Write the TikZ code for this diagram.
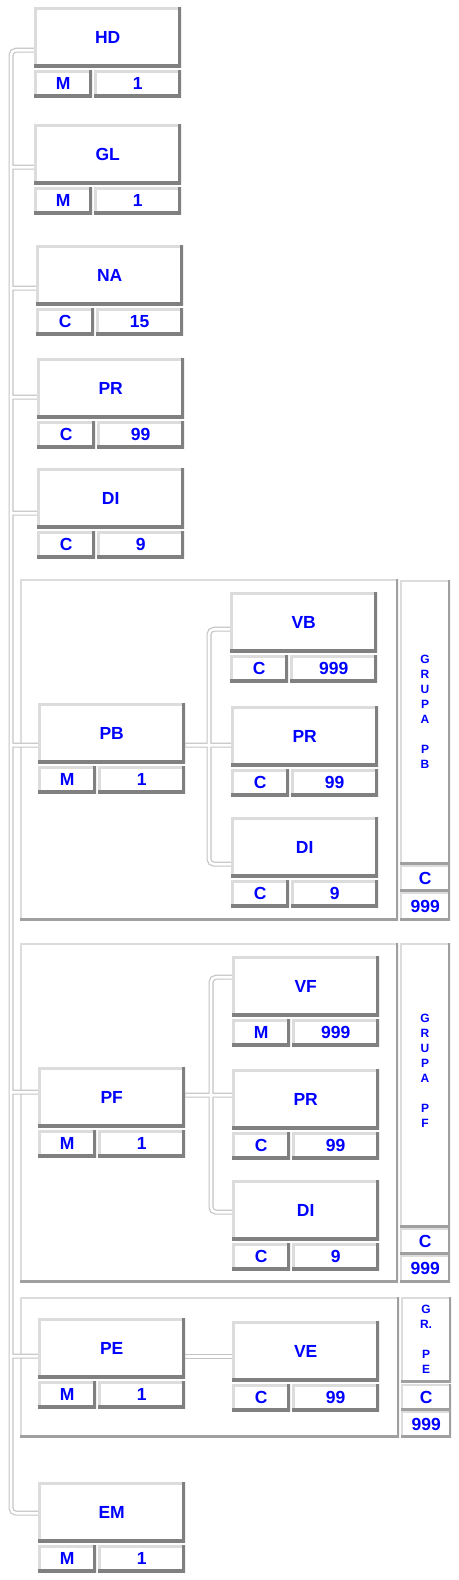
\documentclass[tikz,border=0pt]{standalone}
\usepackage{fontspec}
\setmainfont{Liberation Sans}
\usetikzlibrary{calc}
\definecolor{lightc}{HTML}{DCDCDC}
\definecolor{darkc}{HTML}{808080}
\definecolor{thindark}{HTML}{A0A0A0}
\definecolor{pipec}{HTML}{C4C4C4}
\definecolor{txtc}{HTML}{0000FF}
\newcommand\bigf{\fontsize{17.5}{20}\selectfont\bfseries}
\newcommand\colf{\fontsize{12}{15}\selectfont\bfseries}
\pgfdeclarelayer{frames}
\pgfdeclarelayer{pipes}
\pgfsetlayers{frames,pipes,main}
\tikzset{
  bev/.style={rectangle, inner sep=0pt, fill=white, anchor=north west, text=txtc, font=\bigf,
    path picture={
      \draw[line width=#1, lightc] (path picture bounding box.south west) -- (path picture bounding box.north west) -- (path picture bounding box.north east);
      \draw[line width=#1, darkc] (path picture bounding box.north east) -- (path picture bounding box.south east) -- (path picture bounding box.south west);}},
  bev/.default=6pt,
  grpbox/.style={rectangle, inner sep=0pt, fill=white, anchor=north west, text=txtc, font=\bigf,
    path picture={
      \draw[line width=4pt, lightc] (path picture bounding box.south west) -- (path picture bounding box.north west) -- (path picture bounding box.north east);
      \draw[line width=4pt, thindark] (path picture bounding box.north east) -- (path picture bounding box.south east) -- (path picture bounding box.south west);}},
  pipe/.style={draw=pipec, line width=1.2pt, double=white, double distance=2.6pt, rounded corners=5pt},
  coltext/.style={text=txtc, font=\colf, align=center, inner sep=0pt},
}
\newcommand\fld[6]{%
  \node[bev, minimum width=147pt, minimum height=60pt] (#1) at (#2,#3) {#4};
  \node[bev, minimum width=58pt, minimum height=27pt] (#1t) at (#2,#3+63) {#5};
  \node[bev, minimum width=87pt, minimum height=27pt] (#1n) at (#2+60,#3+63) {#6};
}
\begin{document}
\begin{tikzpicture}[x=1pt,y=-1pt]
\useasboundingbox (0,0) rectangle (458,1580);
% group frames
\begin{pgfonlayer}{frames}
\node[grpbox, minimum width=378pt, minimum height=341pt] (gpb) at (20,579) {};
\node[grpbox, minimum width=378pt, minimum height=339pt] (gpf) at (20,943) {};
\node[grpbox, minimum width=379pt, minimum height=140pt] (gpe) at (20,1297) {};
\end{pgfonlayer}
\node[grpbox, minimum width=50pt, minimum height=284pt] (gpbc) at (400,580) {};
\node[grpbox, minimum width=50pt, minimum height=26pt] (gpbt) at (400,865) {C};
\node[grpbox, minimum width=50pt, minimum height=28pt] (gpbn) at (400,892) {999};
\node[coltext] (gpbl) at (425,712) {G\\R\\U\\P\\A\\[15pt]P\\B};

\node[grpbox, minimum width=50pt, minimum height=284pt] (gpfc) at (400,943) {};
\node[grpbox, minimum width=50pt, minimum height=26pt] (gpft) at (400,1228) {C};
\node[grpbox, minimum width=50pt, minimum height=27pt] (gpfn) at (400,1255) {999};
\node[coltext] (gpfl) at (425,1071) {G\\R\\U\\P\\A\\[15pt]P\\F};

\node[grpbox, minimum width=50pt, minimum height=85pt] (gpec) at (401,1297) {};
\node[grpbox, minimum width=50pt, minimum height=26pt] (gpet) at (401,1384) {C};
\node[grpbox, minimum width=50pt, minimum height=26pt] (gpen) at (401,1411) {999};
\node[coltext] (gpel) at (426,1339) {G\\R.\\[15pt]P\\E};

% fields
\fld{hd}{34}{7}{HD}{M}{1}
\fld{gl}{34}{124}{GL}{M}{1}
\fld{na}{36}{245}{NA}{C}{15}
\fld{pr}{37}{358}{PR}{C}{99}
\fld{di}{37}{468}{DI}{C}{9}
\fld{pb}{38}{703}{PB}{M}{1}
\fld{vb}{230}{592}{VB}{C}{999}
\fld{prb}{231}{706}{PR}{C}{99}
\fld{dib}{231}{817}{DI}{C}{9}
\fld{pf}{38}{1067}{PF}{M}{1}
\fld{vf}{232}{956}{VF}{M}{999}
\fld{prf}{232}{1069}{PR}{C}{99}
\fld{dif}{232}{1180}{DI}{C}{9}
\fld{pe}{38}{1318}{PE}{M}{1}
\fld{ve}{232}{1321}{VE}{C}{99}
\fld{em}{38}{1482}{EM}{M}{1}

% connectors
\coordinate (spine) at (11,0);
\coordinate (ipb) at (209,0);
\coordinate (ipf) at (211,0);
\begin{pgfonlayer}{pipes}
\draw[pipe] ($(hd.west)+(0,13)$) -| ($(spine |- em.west)+(0,1)$) -- ($(em.west)+(0,1)$)
  ($(gl.west)+(0,13)$) coordinate (c2) -- (spine |- c2)
  ($(na.west)+(0,13)$) coordinate (c3) -- (spine |- c3)
  ($(pr.west)+(0,9)$) coordinate (c4) -- (spine |- c4)
  ($(di.west)+(0,15)$) coordinate (c5) -- (spine |- c5)
  ($(pb.west)+(0,12)$) coordinate (c6) -- (spine |- c6)
  ($(pf.west)+(0,-5)$) coordinate (c7) -- (spine |- c7)
  ($(pe.west)+(0,8)$) coordinate (c8) -- (spine |- c8);
\draw[pipe] ($(vb.west)+(0,7)$) -| ($(ipb |- dib.west)+(0,17)$) -- ($(dib.west)+(0,17)$)
  ($(pb.east)+(0,12)$) coordinate (d1) -- (prb.west |- d1);
\draw[pipe] ($(vf.west)+(0,-9)$) -| ($(ipf |- dif.west)+(0,2)$) -- ($(dif.west)+(0,2)$)
  ($(pf.east)+(0,-2)$) coordinate (e1) -- (prf.west |- e1);
\draw[pipe] ($(pe.east)+(0,8)$) coordinate (f1) -- (ve.west |- f1);
\end{pgfonlayer}
\end{tikzpicture}
\end{document}
